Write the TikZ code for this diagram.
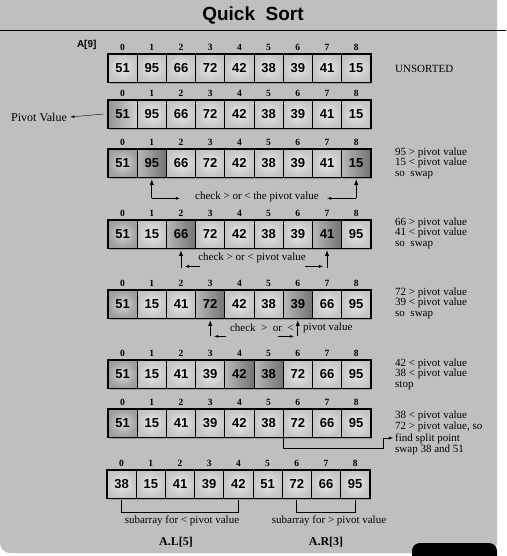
\documentclass[tikz,border=0pt]{standalone}
\usepackage{fontspec}
\setmainfont{Liberation Serif}
\newfontfamily\numfont{Liberation Sans}
\usetikzlibrary{positioning,shadows}

\begin{document}
\begin{tikzpicture}[x=1pt,y=-1pt,>=latex]
   \tikzstyle{cellbox}=[draw=black, line width=0.7pt, minimum width=29.2pt, minimum height=28pt, inner sep=0pt, font=\numfont\bfseries\fontsize{13}{13}\selectfont, inner color=white!91!black, outer color=white!77!black, drop shadow={shadow xshift=1.5pt, shadow yshift=-1.8pt, opacity=0.6}]
   \tikzstyle{pivotbox}=[cellbox, inner color=white!84!black, outer color=white!62!black]
   \tikzstyle{headbox}=[cellbox, left color=white!58!black, right color=white!82!black]
   \tikzstyle{hotbox}=[cellbox, left color=white!72!black, right color=white!45!black]
   \tikzstyle{idx}=[font=\bfseries\fontsize{9.5}{10}\selectfont, inner sep=1pt]
   \tikzstyle{note}=[font=\fontsize{11}{10.5}\selectfont, inner sep=0pt, align=left]
   \tikzstyle{side}=[note, anchor=west]
   \useasboundingbox (0,0) rectangle (506,556);
   \fill[white] (0,0) rectangle (506,556);
   \fill[gray!50, rounded corners=10pt] (0,-20) rectangle (497,553);
   \fill[black, rounded corners=8pt] (412,543) rectangle (497,566);
   \node[font=\numfont\bfseries\fontsize{19}{19}\selectfont] (title) at (253,15) {Quick\ \ Sort};
   \draw[line width=0.8pt] (0,30) -- (506,30);
   % the array, one row per step
   \foreach \i/\v/\s in {0/51/cellbox,1/95/cellbox,2/66/cellbox,3/72/cellbox,4/42/cellbox,5/38/cellbox,6/39/cellbox,7/41/cellbox,8/15/cellbox} {
       \node[\s] (r1-\i) at ({122.6+29.2*\i},68) {\v};
       \node[idx, above=2pt of r1-\i] (i1-\i) {\i};
   }
   \foreach \i/\v/\s in {0/51/headbox,1/95/cellbox,2/66/cellbox,3/72/cellbox,4/42/cellbox,5/38/cellbox,6/39/cellbox,7/41/cellbox,8/15/cellbox} {
       \node[\s] (r2-\i) at ({122.6+29.2*\i},114) {\v};
       \node[idx, above=2pt of r2-\i] (i2-\i) {\i};
   }
   \foreach \i/\v/\s in {0/51/pivotbox,1/95/hotbox,2/66/cellbox,3/72/cellbox,4/42/cellbox,5/38/cellbox,6/39/cellbox,7/41/cellbox,8/15/hotbox} {
       \node[\s] (r3-\i) at ({122.6+29.2*\i},163) {\v};
       \node[idx, above=2pt of r3-\i] (i3-\i) {\i};
   }
   \foreach \i/\v/\s in {0/51/pivotbox,1/15/cellbox,2/66/hotbox,3/72/cellbox,4/42/cellbox,5/38/cellbox,6/39/cellbox,7/41/hotbox,8/95/cellbox} {
       \node[\s] (r4-\i) at ({122.6+29.2*\i},234) {\v};
       \node[idx, above=2pt of r4-\i] (i4-\i) {\i};
   }
   \foreach \i/\v/\s in {0/51/pivotbox,1/15/cellbox,2/41/cellbox,3/72/hotbox,4/42/cellbox,5/38/cellbox,6/39/hotbox,7/66/cellbox,8/95/cellbox} {
       \node[\s] (r5-\i) at ({122.6+29.2*\i},304) {\v};
       \node[idx, above=2pt of r5-\i] (i5-\i) {\i};
   }
   \foreach \i/\v/\s in {0/51/pivotbox,1/15/cellbox,2/41/cellbox,3/39/cellbox,4/42/hotbox,5/38/hotbox,6/72/cellbox,7/66/cellbox,8/95/cellbox} {
       \node[\s] (r6-\i) at ({122.6+29.2*\i},374) {\v};
       \node[idx, above=2pt of r6-\i] (i6-\i) {\i};
   }
   \foreach \i/\v/\s in {0/51/pivotbox,1/15/cellbox,2/41/cellbox,3/39/cellbox,4/42/cellbox,5/38/cellbox,6/72/cellbox,7/66/cellbox,8/95/cellbox} {
       \node[\s] (r7-\i) at ({122.6+29.2*\i},423) {\v};
       \node[idx, above=2pt of r7-\i] (i7-\i) {\i};
   }
   \foreach \i/\v/\s in {0/38/cellbox,1/15/cellbox,2/41/cellbox,3/39/cellbox,4/42/cellbox,5/51/cellbox,6/72/cellbox,7/66/cellbox,8/95/cellbox} {
       \node[\s] (r8-\i) at ({121.6+29.2*\i},484) {\v};
       \node[idx, above=2pt of r8-\i] (i8-\i) {\i};
   }
   \foreach \r in {1,...,8}
       \draw[line width=1.2pt] (r\r-0.north west) rectangle (r\r-8.south east);
   % labels on the left and right
   \node[font=\numfont\bfseries\fontsize{10}{10}\selectfont, anchor=east] (size) at (100,45) {A[9]};
   \node[font=\fontsize{12}{12}\selectfont] (pv) at (39,117) {Pivot Value};
   \draw[->] ([xshift=-4pt]r2-0.west) -- (pv.east);
   \node[side] (n1) at (395,69) {UNSORTED};
   \node[side] (n3) at (395,163) {95 > pivot value\\15 < pivot value\\so\ \ swap};
   \node[side] (n4) at (395,233) {66 > pivot value\\41 < pivot value\\so\ \ swap};
   \node[side] (n5) at (395,303) {72 > pivot value\\39 < pivot value\\so\ \ swap};
   \node[side] (n6) at (395,374) {42 < pivot value\\38 < pivot value\\stop};
   \node[side, font=\fontsize{11}{11.3}\selectfont] (n7) at (395,433) {38 < pivot value\\72 > pivot value, so\\find split point\\swap 38 and 51};
   % checks between rows
   \coordinate (b3l) at ([yshift=-21pt]r3-1.south);
   \coordinate (b3r) at ([yshift=-21pt]r3-8.south);
   \draw[->, line width=0.9pt] (b3l) -- ([yshift=-2pt]r3-1.south);
   \draw[->, line width=0.9pt] (b3r) -- ([yshift=-2pt]r3-8.south);
   \draw[->] (b3l) -- ++(28,0);
   \draw[->] (b3r) -- ++(-29,0);
   \node[note] (chk3) at (257,197) {check > or < the pivot value};
   \coordinate (b4l) at ([yshift=-20pt]r4-2.south);
   \coordinate (b4r) at ([yshift=-20pt]r4-7.south);
   \draw[->, line width=0.9pt] (b4l) -- ([yshift=-2pt]r4-2.south);
   \draw[->, line width=0.9pt] (b4r) -- ([yshift=-2pt]r4-7.south);
   \draw[<-] ([xshift=4pt, yshift=2pt]b4l) -- ++(15,0);
   \draw[<-] ([xshift=-4pt, yshift=2pt]b4r) -- ++(-18,0);
   \node[note] (chk4) at (252,258) {check > or < pivot value};
   \coordinate (b5l) at ([yshift=-18pt]r5-3.south);
   \coordinate (b5r) at ([yshift=-18pt]r5-6.south);
   \draw[->, line width=0.9pt] (b5l) -- ([yshift=-2pt]r5-3.south);
   \draw[->, line width=0.9pt] (b5r) -- ([yshift=-2pt]r5-6.south);
   \draw[<-] ([xshift=4pt]b5l) -- ++(12,0);
   \draw[<-] ([xshift=-4pt]b5r) -- ++(-16,0);
   \node[note, anchor=east] (chk5) at (294,328) {check\ \ >\ \ or\ \ <};
   \node[note, anchor=west] (pv5) at (303,328) {pivot value};
   % split point
   \coordinate (turn) at (383,448);
   \coordinate (split) at (393,438);
   \draw[->] (r7-6.south west) |- (turn) |- (split);
   % the two subarrays
   \draw[line width=0.8pt] ([yshift=-2pt]r8-0.south) -- ++(0,12) -| ([yshift=-2pt]r8-4.south);
   \draw[line width=0.8pt] ([yshift=-2pt]r8-6.south) -- ++(0,12) -| ([yshift=-2pt]r8-8.south);
   \node[note] (subl) at (182,521) {subarray for < pivot value};
   \node[note] (subr) at (329,521) {subarray for > pivot value};
   \node[font=\bfseries\fontsize{12}{12}\selectfont] (al) at (176,542) {A.L[5]};
   \node[font=\bfseries\fontsize{12}{12}\selectfont] (ar) at (326,542) {A.R[3]};
\end{tikzpicture}
\end{document}
